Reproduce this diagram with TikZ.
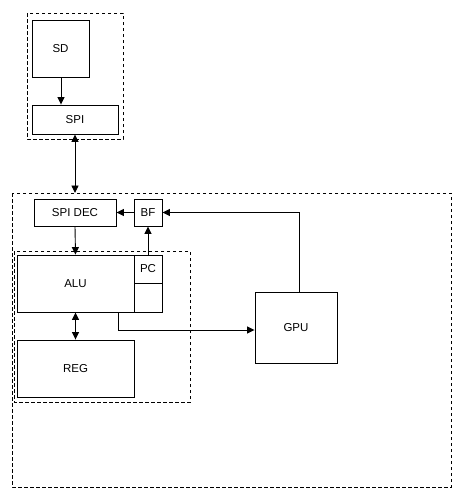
\documentclass[tikz,border=0pt]{standalone}
\usepackage{fontspec}
\setmainfont{Liberation Sans}
\usetikzlibrary{arrows.meta}
\begin{document}
\begin{tikzpicture}[x=1pt,y=-1pt,
  blk/.style={draw,line width=0.9pt,minimum width=0pt,minimum height=0pt,inner sep=0pt,
              font=\fontsize{11.5}{13}\selectfont},
  grp/.style={draw,dashed,line width=0.8pt,dash pattern=on 3.5pt off 2.5pt},
  tip/.tip={Triangle[length=7.5pt,width=7pt]},
  conn/.style={line width=0.9pt,-tip},
  biconn/.style={line width=0.9pt,tip-tip}]
\useasboundingbox (0,0) rectangle (462,499);

% dashed groupings
\draw[grp] (27,13) rectangle (123,139);
\draw[grp] (12,193) rectangle (451,487);
\draw[grp] (14,251) rectangle (190,402);

% blocks
\node[blk,minimum width=57pt,minimum height=57pt] (sd) at (60.5,48.5) {SD};
\node[blk,minimum width=86pt,minimum height=29pt] (spi) at (75,119.5) {SPI};
\node[blk,minimum width=82pt,minimum height=27pt] (spidec) at (75,212.5) {SPI DEC};
\node[blk,minimum width=28pt,minimum height=27pt] (bf) at (148,212.5) {BF};
\node[blk,minimum width=117pt,minimum height=57pt] (alu) at (75.5,283.5) {ALU};
\node[blk,minimum width=28pt,minimum height=28pt] (pc) at (148,269) {PC};
\node[blk,minimum width=28pt,minimum height=29pt] (pcx) at (148,297.5) {};
\node[blk,minimum width=82pt,minimum height=71pt] (gpu) at (296,327.5) {GPU};
\node[blk,minimum width=117pt,minimum height=57pt] (reg) at (75.5,368.5) {REG};

\coordinate (top) at (75,193);
\coordinate (alubr) at (118,312);

% connectors
\draw[conn] (sd.south -| 61,0) -- (spi.north -| 61,0);
\draw[biconn] (spi.south) -- (top);
\draw[conn] (spidec.south) -- (alu.north);
\draw[conn] (bf.west) -- (spidec.east);
\draw[conn] (pc.north) -- (bf.south);
\draw[conn] (gpu.north -| 299,0) |- (bf.east);
\draw[conn] (alubr) |- (gpu.west |- 0,330);
\draw[biconn] (alu.south) -- (reg.north);
\end{tikzpicture}
\end{document}
